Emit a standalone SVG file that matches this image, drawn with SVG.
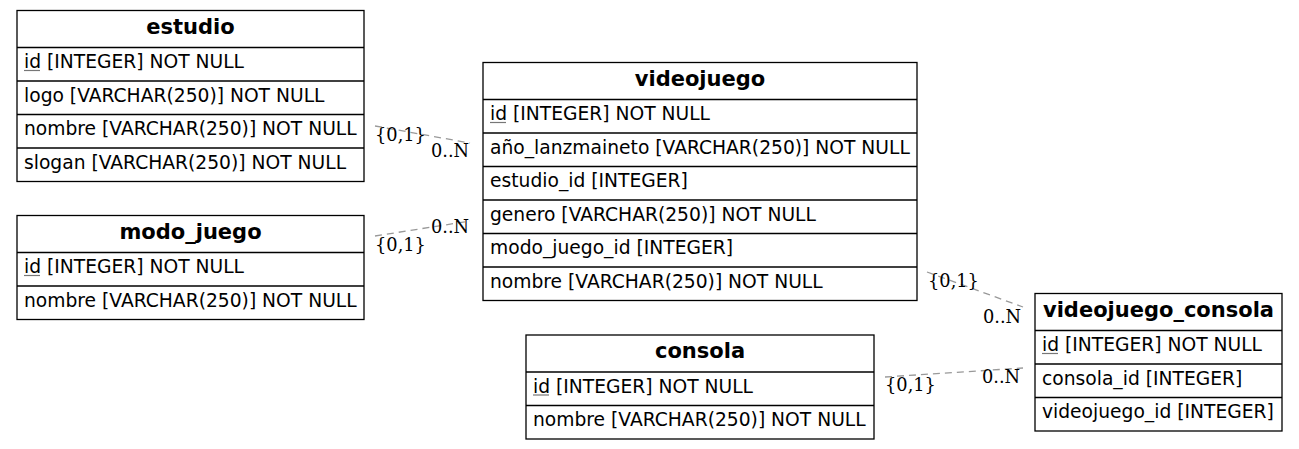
<svg xmlns="http://www.w3.org/2000/svg" width="1299" height="449" viewBox="0 0 1299 449">
<style>
.box{fill:#fff;stroke:#000;stroke-width:1.3}
.sep{stroke:#000;stroke-width:1.6}
.h{font-family:"DejaVu Sans",sans-serif;font-weight:bold;font-size:21px;text-anchor:middle;fill:#000}
.t{font-family:"DejaVu Sans",sans-serif;font-size:18.7px;fill:#000}
.ul{stroke:#777;stroke-width:1.2}
.c{fill:none;stroke:#999;stroke-width:1.3;stroke-dasharray:7,5}
.l{font-family:"DejaVu Serif",serif;font-size:17.8px;fill:#000}
</style>
<g id="connectors">
<line class="c" x1="375" y1="126" x2="470" y2="143"/>
<line class="c" x1="375" y1="236" x2="470" y2="221"/>
<line class="c" x1="927" y1="272" x2="1023" y2="307"/>
<line class="c" x1="885" y1="377" x2="1023" y2="368"/>
<text class="l" x="375" y="141">{0,1}</text>
<text class="l" x="431" y="157">0..N</text>
<text class="l" x="375" y="251">{0,1}</text>
<text class="l" x="431" y="233">0..N</text>
<text class="l" x="928" y="287">{0,1}</text>
<text class="l" x="983" y="323">0..N</text>
<text class="l" x="885" y="391">{0,1}</text>
<text class="l" x="982" y="383">0..N</text>
</g>
<g id="estudio">
<rect class="box" x="17" y="10.5" width="347" height="171"/>
<line class="sep" x1="17" y1="47.5" x2="364" y2="47.5"/>
<line class="sep" x1="17" y1="81" x2="364" y2="81"/>
<line class="sep" x1="17" y1="114.5" x2="364" y2="114.5"/>
<line class="sep" x1="17" y1="148" x2="364" y2="148"/>
<text class="h" x="190.5" y="33.5">estudio</text>
<text class="t" x="24" y="68">id [INTEGER] NOT NULL</text>
<line class="ul" x1="24" y1="70.5" x2="40" y2="70.5"/>
<text class="t" x="24" y="101.5">logo [VARCHAR(250)] NOT NULL</text>
<text class="t" x="24" y="135">nombre [VARCHAR(250)] NOT NULL</text>
<text class="t" x="24" y="168.5">slogan [VARCHAR(250)] NOT NULL</text>
</g>
<g id="modo_juego">
<rect class="box" x="17" y="215.5" width="347" height="104"/>
<line class="sep" x1="17" y1="252.5" x2="364" y2="252.5"/>
<line class="sep" x1="17" y1="286" x2="364" y2="286"/>
<text class="h" x="190.5" y="238.5">modo_juego</text>
<text class="t" x="24" y="273">id [INTEGER] NOT NULL</text>
<line class="ul" x1="24" y1="275.5" x2="40" y2="275.5"/>
<text class="t" x="24" y="306.5">nombre [VARCHAR(250)] NOT NULL</text>
</g>
<g id="videojuego">
<rect class="box" x="483" y="62.5" width="434" height="238"/>
<line class="sep" x1="483" y1="99.5" x2="917" y2="99.5"/>
<line class="sep" x1="483" y1="133" x2="917" y2="133"/>
<line class="sep" x1="483" y1="166.5" x2="917" y2="166.5"/>
<line class="sep" x1="483" y1="200" x2="917" y2="200"/>
<line class="sep" x1="483" y1="233.5" x2="917" y2="233.5"/>
<line class="sep" x1="483" y1="267" x2="917" y2="267"/>
<text class="h" x="700" y="85.5">videojuego</text>
<text class="t" x="490" y="120">id [INTEGER] NOT NULL</text>
<line class="ul" x1="490" y1="122.5" x2="506" y2="122.5"/>
<text class="t" x="490" y="153.5">año_lanzmaineto [VARCHAR(250)] NOT NULL</text>
<text class="t" x="490" y="187">estudio_id [INTEGER]</text>
<text class="t" x="490" y="220.5">genero [VARCHAR(250)] NOT NULL</text>
<text class="t" x="490" y="254">modo_juego_id [INTEGER]</text>
<text class="t" x="490" y="287.5">nombre [VARCHAR(250)] NOT NULL</text>
</g>
<g id="consola">
<rect class="box" x="526" y="335" width="348" height="104"/>
<line class="sep" x1="526" y1="372" x2="874" y2="372"/>
<line class="sep" x1="526" y1="405.5" x2="874" y2="405.5"/>
<text class="h" x="700" y="358">consola</text>
<text class="t" x="533" y="392.5">id [INTEGER] NOT NULL</text>
<line class="ul" x1="533" y1="395" x2="549" y2="395"/>
<text class="t" x="533" y="426">nombre [VARCHAR(250)] NOT NULL</text>
</g>
<g id="videojuego_consola">
<rect class="box" x="1035" y="293.5" width="247" height="137.5"/>
<line class="sep" x1="1035" y1="330.5" x2="1282" y2="330.5"/>
<line class="sep" x1="1035" y1="364" x2="1282" y2="364"/>
<line class="sep" x1="1035" y1="397.5" x2="1282" y2="397.5"/>
<text class="h" x="1158.5" y="316.5">videojuego_consola</text>
<text class="t" x="1042" y="351">id [INTEGER] NOT NULL</text>
<line class="ul" x1="1042" y1="353.5" x2="1058" y2="353.5"/>
<text class="t" x="1042" y="384.5">consola_id [INTEGER]</text>
<text class="t" x="1042" y="418">videojuego_id [INTEGER]</text>
</g>
</svg>
